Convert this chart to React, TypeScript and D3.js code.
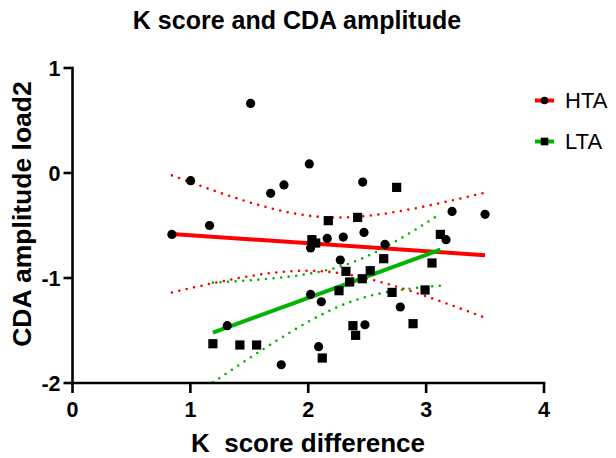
import React from "react";
import * as d3 from "d3";

const TITLE = "K score and CDA amplitude";
const X_LABEL = "K\u00a0 score difference";
const Y_LABEL = "CDA amplitude load2";
const X_TICKS = [0, 1, 2, 3, 4];
const Y_TICKS = [-2, -1, 0, 1];
const SERIES_NAMES = ["HTA", "LTA"];

const HTA_X = [0.843, 1.002, 1.163, 1.313, 1.511, 1.681, 1.771, 1.794, 2.009, 2.02, 2.02, 2.088, 2.111, 2.161, 2.272, 2.297, 2.462, 2.473, 2.481, 2.651, 2.781, 3.169, 3.22, 3.5];
const HTA_Y = [-0.585, -0.073, -0.5, -1.454, 0.663, -0.194, -1.826, -0.114, 0.086, -0.714, -1.156, -1.654, -1.226, -0.623, -0.829, -0.61, -0.086, -0.566, -1.445, -0.68, -1.276, -0.635, -0.366, -0.394];

const LTA_X = [1.191, 1.42, 1.562, 2.031, 2.063, 2.119, 2.17, 2.261, 2.32, 2.351, 2.379, 2.402, 2.419, 2.458, 2.526, 2.64, 2.711, 2.75, 2.889, 2.991, 3.05, 3.121];
const LTA_Y = [-1.626, -1.638, -1.638, -0.635, -0.667, -1.762, -0.454, -1.121, -0.937, -1.038, -1.454, -1.546, -0.423, -1.007, -0.93, -0.816, -1.137, -0.137, -1.435, -1.114, -0.857, -0.585];

const COLORS = ["#ff0000", "#00b400"];

function tCrit(df: number) {
  const z = 1.959964;
  return z + (z ** 3 + z) / (4 * df) + (5 * z ** 5 + 16 * z ** 3 + 3 * z) / (96 * df * df);
}

function fit(xs: number[], ys: number[]) {
  const n = xs.length;
  const mx = d3.mean(xs)!;
  const my = d3.mean(ys)!;
  let sxx = 0, sxy = 0;
  xs.forEach((x, i) => { sxx += (x - mx) ** 2; sxy += (x - mx) * (ys[i] - my); });
  const b = sxy / sxx;
  const a = my - b * mx;
  let sse = 0;
  xs.forEach((x, i) => { sse += (ys[i] - (a + b * x)) ** 2; });
  const s = Math.sqrt(sse / (n - 2));
  const t = tCrit(n - 2);
  const xmin = d3.min(xs)!, xmax = d3.max(xs)!;
  const pred = (x: number) => a + b * x;
  const half = (x: number) => t * s * Math.sqrt(1 / n + (x - mx) ** 2 / sxx);
  return { a, b, pred, half, xmin, xmax };
}

export default function App() {
  const W = 616, H = 458;
  const x = d3.scaleLinear().domain([0, 4]).range([72.5, 544]);
  const y = d3.scaleLinear().domain([-2, 1]).range([383, 68]);
  const series = [
    { name: SERIES_NAMES[0], xs: HTA_X, ys: HTA_Y, color: COLORS[0], shape: "circle" },
    { name: SERIES_NAMES[1], xs: LTA_X, ys: LTA_Y, color: COLORS[1], shape: "square" },
  ];
  const font = "'Liberation Sans', Arial, sans-serif";
  const line = d3.line<[number, number]>().x(d => x(d[0])).y(d => y(d[1]));

  return (
    <svg width={W} height={H} style={{ position: "absolute", left: 0, top: 0, background: "#fff" }} fontFamily={font}>
      <text x={297} y={29} textAnchor="middle" fontSize={25} fontWeight="bold">{TITLE}</text>

      {/* regression + CI */}
      {series.map((s, si) => {
        const f = fit(s.xs, s.ys);
        const pts = d3.range(0, 101).map(i => f.xmin + (f.xmax - f.xmin) * i / 100);
        const up = line(pts.map(v => [v, f.pred(v) + f.half(v)] as [number, number]))!;
        const lo = line(pts.map(v => [v, f.pred(v) - f.half(v)] as [number, number]))!;
        return (
          <g key={si}>
            <path d={up} fill="none" stroke={s.color} strokeWidth={2.6} strokeDasharray="0 7.6" strokeLinecap="round" />
            <path d={lo} fill="none" stroke={s.color} strokeWidth={2.6} strokeDasharray="0 7.6" strokeLinecap="round" />
            <path d={line([[f.xmin, f.pred(f.xmin)], [f.xmax, f.pred(f.xmax)]])!} fill="none" stroke={s.color} strokeWidth={4} />
          </g>
        );
      })}

      {/* points */}
      {series.map((s, si) => (
        <g key={"p" + si}>
          {s.xs.map((v, i) => s.shape === "circle"
            ? <circle key={i} cx={x(v)} cy={y(s.ys[i])} r={4.6} fill="#000" />
            : <rect key={i} x={x(v) - 4.6} y={y(s.ys[i]) - 4.6} width={9.2} height={9.2} fill="#000" />)}
        </g>
      ))}

      {/* axes */}
      <g stroke="#000" strokeWidth={2.6} fill="none">
        <line x1={x(0)} x2={x(0)} y1={y(1) - 1.3} y2={y(-2) + 1.3} />
        <line x1={x(0) - 1.3} x2={x(4) + 1.3} y1={y(-2)} y2={y(-2)} />
        {Y_TICKS.map(t => <line key={"yt" + t} x1={x(0) - 9} x2={x(0)} y1={y(t)} y2={y(t)} />)}
        {X_TICKS.map(t => <line key={"xt" + t} x1={x(t)} x2={x(t)} y1={y(-2)} y2={y(-2) + 10} />)}
      </g>
      <g fontSize={21.5} fontWeight="bold">
        {Y_TICKS.map(t => <text key={"yl" + t} x={x(0) - 12} y={y(t)} dy="0.36em" textAnchor="end">{t}</text>)}
        {X_TICKS.map(t => <text key={"xl" + t} x={x(t)} y={417} textAnchor="middle">{t}</text>)}
      </g>
      <text x={308} y={452} textAnchor="middle" fontSize={26} fontWeight="bold">{X_LABEL}</text>
      <text transform="translate(31,214) rotate(-90)" textAnchor="middle" fontSize={26.5} fontWeight="bold">{Y_LABEL}</text>

      {/* legend */}
      {series.map((s, si) => {
        const ly = 100.5 + si * 41;
        return (
          <g key={"l" + si}>
            <line x1={535} x2={554} y1={ly} y2={ly} stroke={s.color} strokeWidth={4} />
            {s.shape === "circle"
              ? <circle cx={544.5} cy={ly} r={3.8} fill="#000" />
              : <rect x={540.7} y={ly - 3.8} width={7.6} height={7.6} fill="#000" />}
            <text x={565} y={ly} dy="0.36em" fontSize={22}>{s.name}</text>
          </g>
        );
      })}
    </svg>
  );
}
